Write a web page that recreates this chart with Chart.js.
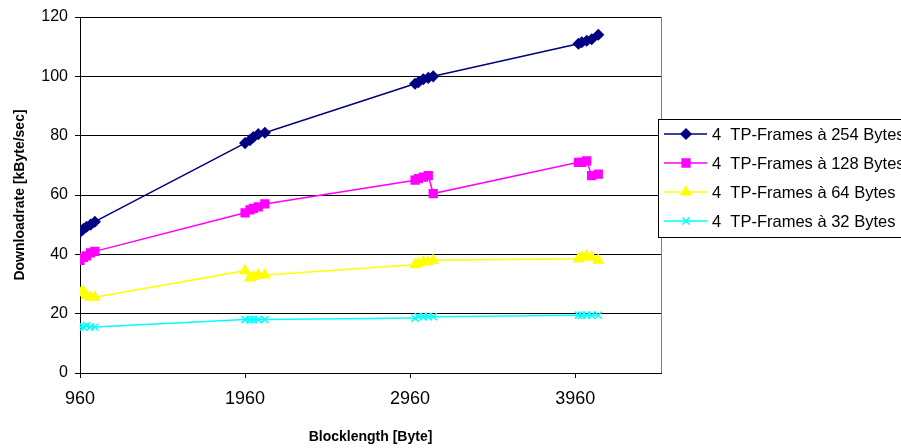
<!DOCTYPE html>
<html>
<head>
<meta charset="utf-8">
<title>Downloadrate vs Blocklength</title>
<script src="https://cdn.jsdelivr.net/npm/chart.js@4/dist/chart.umd.min.js"></script>
<style>
    body { margin: 0; background: #fff; }
    canvas { display: block; }
</style>
</head>
<body>
<canvas id="rateChart" width="901" height="448"></canvas>
<script>
// Blocklengths in Byte (shared by all series)
const blockLengths = [960, 980, 1000, 1024, 1050, 1960, 1990, 2010, 2040, 2080, 2990, 3010, 3040, 3070, 3100, 3980, 4000, 4030, 4060, 4100];

// Downloadrate in kByte/sec
const frames254 = [47.5, 48.5, 49.3, 50, 51, 77.5, 78.5, 79.5, 80.5, 81, 97.5, 98, 99, 99.5, 100, 111, 111.5, 112, 112.5, 114];
const frames128 = [38, 39, 39.5, 40.5, 41, 54, 55, 55.5, 56, 57, 65, 65.5, 66, 66.5, 60.5, 71, 71, 71.5, 66.5, 67];
const frames64 = [27, 27.5, 26, 25.5, 25.5, 34.5, 32, 32.5, 33, 33, 36.5, 37, 37.5, 37.5, 38, 38.5, 39, 39.5, 39, 38];
const frames32 = [15.5, 15.5, 16, 15.5, 15.5, 18, 18, 18, 18, 18, 18.5, 19, 19, 19, 19, 19.5, 19.5, 19.5, 19.5, 19.5];

const seriesNames = ['4  TP-Frames à 254 Bytes', '4  TP-Frames à 128 Bytes', '4  TP-Frames à 64 Bytes', '4  TP-Frames à 32 Bytes'];
const xTicks = [960, 1960, 2960, 3960];
const yTicks = [0, 20, 40, 60, 80, 100, 120];

const FONT = "'Liberation Sans', Arial, sans-serif";

const styles = [
    { color: '#000080', point: 'rectRot', radius: 5 },
    { color: '#FF00FF', point: 'rect', radius: 5.5 },
    { color: '#FFFF00', point: 'triangle', radius: 5.5 },
    { color: '#00FFFF', point: 'crossRot', radius: 5 }
];

function toPoints(values) {
    return values.map((v, i) => ({ x: blockLengths[i], y: v }));
}

const allSeries = [frames254, frames128, frames64, frames32];

const datasets = allSeries.map((values, i) => ({
    label: seriesNames[i],
    data: toPoints(values),
    showLine: true,
    borderColor: styles[i].color,
    backgroundColor: styles[i].color,
    borderWidth: 1.5,
    pointStyle: styles[i].point,
    pointRadius: styles[i].radius,
    pointBorderWidth: 1.5,
    pointBorderColor: styles[i].color,
    pointBackgroundColor: styles[i].color
}));

// Excel-like legend box that overlaps the right side of the plot
const boxLegend = {
    id: 'boxLegend',
    afterDraw(chart) {
        const ctx = chart.ctx;
        const left = 658.5, top = 119.5, width = 260, height = 118;
        ctx.save();
        ctx.fillStyle = '#fff';
        ctx.fillRect(left, top, width, height);
        ctx.strokeStyle = '#000';
        ctx.lineWidth = 1;
        ctx.strokeRect(left, top, width, height);

        const rows = [134, 163, 192, 221];
        rows.forEach((y, i) => {
            ctx.strokeStyle = styles[i].color;
            ctx.lineWidth = 1.5;
            ctx.beginPath();
            ctx.moveTo(664, y);
            ctx.lineTo(707, y);
            ctx.stroke();

            ctx.fillStyle = styles[i].color;
            ctx.strokeStyle = styles[i].color;
            Chart.helpers.drawPoint(ctx, {
                pointStyle: styles[i].point,
                radius: styles[i].radius,
                rotation: 0,
                borderWidth: 1.5
            }, 686, y);

            ctx.fillStyle = '#000';
            ctx.font = '16.5px ' + FONT;
            ctx.textAlign = 'left';
            ctx.textBaseline = 'middle';
            ctx.fillText(seriesNames[i], 712, y + 1);
        });
        ctx.restore();
    }
};

// grey right border of the plot area
const plotFrame = {
    id: 'plotFrame',
    beforeDatasetsDraw(chart) {
        const { ctx, chartArea } = chart;
        ctx.save();
        ctx.strokeStyle = '#808080';
        ctx.lineWidth = 1;
        ctx.beginPath();
        ctx.moveTo(Math.round(chartArea.right) + 0.5, chartArea.top);
        ctx.lineTo(Math.round(chartArea.right) + 0.5, chartArea.bottom);
        ctx.stroke();
        ctx.restore();
    }
};

new Chart(document.getElementById('rateChart'), {
    type: 'scatter',
    data: { datasets: datasets },
    plugins: [plotFrame, boxLegend],
    options: {
        responsive: false,
        animation: false,
        devicePixelRatio: 1,
        layout: { padding: { left: 0, top: 17, right: 240, bottom: 0 } },
        plugins: {
            legend: { display: false },
            tooltip: { enabled: false }
        },
        scales: {
            x: {
                type: 'linear',
                min: 960,
                max: 4480,
                afterBuildTicks: (scale) => { scale.ticks = xTicks.map(v => ({ value: v })); },
                afterFit: (scale) => { scale.height = 75; },
                grid: {
                    drawOnChartArea: false,
                    drawTicks: true,
                    tickLength: 5,
                    color: '#000'
                },
                border: { color: '#000', width: 1 },
                ticks: {
                    color: '#000',
                    padding: 10,
                    maxRotation: 0,
                    autoSkip: false,
                    font: { family: FONT, size: 18 },
                    callback: (v) => String(v)
                },
                title: {
                    display: true,
                    text: 'Blocklength [Byte]',
                    color: '#000',
                    padding: { top: 0, bottom: 2 },
                    font: { family: FONT, size: 14, weight: 'bold' }
                }
            },
            y: {
                min: 0,
                max: 120,
                afterBuildTicks: (scale) => { scale.ticks = yTicks.map(v => ({ value: v })); },
                afterFit: (scale) => { scale.width = 80; },
                grid: {
                    color: '#000',
                    lineWidth: 1,
                    drawTicks: true,
                    tickLength: 5
                },
                border: { color: '#000', width: 1 },
                ticks: {
                    color: '#000',
                    padding: 7,
                    font: { family: FONT, size: 16 }
                },
                title: {
                    display: true,
                    text: 'Downloadrate [kByte/sec]',
                    color: '#000',
                    padding: { top: 12, bottom: 0 },
                    font: { family: FONT, size: 14, weight: 'bold' }
                }
            }
        }
    }
});
</script>
</body>
</html>
